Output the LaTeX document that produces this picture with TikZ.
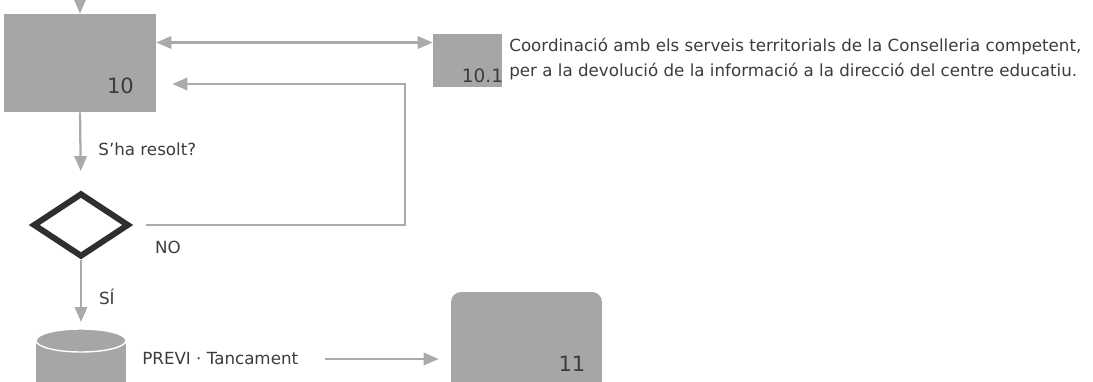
\documentclass[tikz,border=0pt]{standalone}
\usepackage{fontspec}
\setmainfont{DejaVu Sans}
\usetikzlibrary{arrows.meta,shapes.geometric}
\definecolor{boxgray}{HTML}{A6A6A6}
\definecolor{linegray}{HTML}{AAAAAA}
\definecolor{txtgray}{HTML}{3C3C3C}
\definecolor{decgray}{HTML}{2F2F2F}
\begin{document}
\begin{tikzpicture}[x=0.02cm, y=-0.02cm,
  flow/.style={draw=linegray, line width=1.3pt, -{Triangle[length=8.5pt,width=7pt]}},
  taskbox/.style={fill=boxgray, draw=none, inner sep=0pt},
  tasknum/.style={text=txtgray, font=\fontsize{12}{14}\selectfont},
  lbl/.style={text=txtgray, font=\fontsize{9.5}{11}\selectfont, inner sep=0pt}]
\useasboundingbox (0,0) rectangle (1093,382);

% box 10 and its number
\node[taskbox, minimum width=3.04cm, minimum height=1.96cm] (box10) at (80,63) {};
\node[tasknum] (num10) at (120.5,85.5) {10};
\coordinate (top) at (80,-20);
\draw[flow] (top) -- (box10.north);

% box 10.1 with its text
\node[taskbox, minimum width=1.38cm, minimum height=1.06cm] (box101) at (467.5,60.5) {};
\node[tasknum, font=\fontsize{10.5}{12}\selectfont, inner sep=0pt] (num101) at (482.5,76) {10.1};
\node[lbl, anchor=west, align=left, font=\fontsize{9.5}{14.2}\selectfont] (desc) at (509,59.5)
  {Coordinació amb els serveis territorials de la Conselleria competent,\\
   per a la devolució de la informació a la direcció del centre educatiu.};
\coordinate (link) at (300,42.5);
\draw[flow, {Triangle[length=8.5pt,width=7pt]}-{Triangle[length=8.5pt,width=7pt]}]
  (box10.east |- link) -- (box101.west |- link);

% decision
\node[diamond, draw=decgray, fill=white, line width=3.4pt, inner sep=0pt,
  minimum width=1.92cm, minimum height=1.28cm] (dec) at (81,225) {};
\draw[flow, shorten >=0.38cm] (box10.south) -- (dec.north)
  node[lbl, pos=0.47, right=9.6pt] (ask) {S’ha resolt?};
\node[lbl] (no) at (168,247) {NO};

% back to box 10
\coordinate (fb) at (405,84);
\draw[flow, shorten <=0.28cm, shorten >=0.32cm] (dec.east) -| (fb) -- (box10.east |- fb);

% data store
\fill[boxgray] (36,340.5) -- (36,390) -- (126,390) -- (126,340.5) -- cycle;
\filldraw[fill=boxgray, draw=white, line width=0.8pt] (81,340.5) ellipse [x radius=45, y radius=11.5];
\coordinate (db) at (81,329);
\draw[flow, shorten >=0.14cm] (dec.south) -- (db)
  node[lbl, pos=0.53, right=9.6pt] (yes) {SÍ};
\node[lbl, anchor=west] (prev) at (142,359) {PREVI · Tancament};

% box 11
\node[taskbox, rounded corners=0.2cm, minimum width=3.02cm, minimum height=2.16cm] (box11) at (526.5,346) {};
\node[tasknum] (num11) at (572,364) {11};
\draw[flow, shorten <=0.54cm, shorten >=0.24cm] (prev.east) -- (prev.east -| box11.west);

\end{tikzpicture}
\end{document}
